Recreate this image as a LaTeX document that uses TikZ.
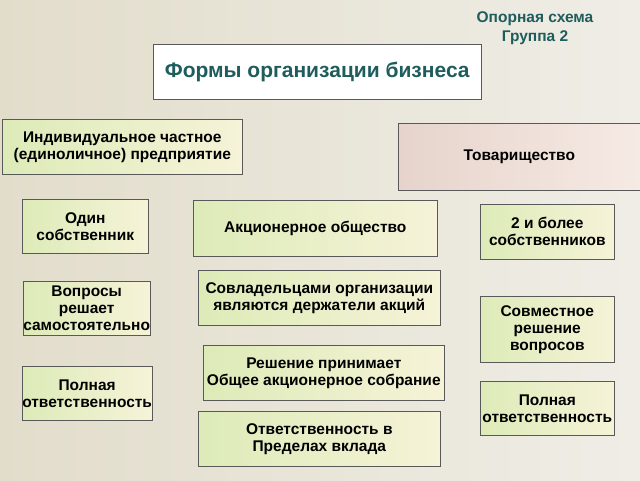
\documentclass[tikz,border=0pt]{standalone}
\usepackage{fontspec}
\setmainfont{Liberation Sans}
\definecolor{bgL}{HTML}{E2DDCB}
\definecolor{bgR}{HTML}{EFEDE6}
\definecolor{teal}{HTML}{1F5C5C}
\definecolor{gA}{HTML}{DDEBB8}
\definecolor{gB}{HTML}{F6F3D8}
\definecolor{pA}{HTML}{F6EAE4}
\definecolor{pB}{HTML}{E6D4CC}
\begin{document}
\begin{tikzpicture}[x=1pt,y=-1pt,
 box/.style={draw=gray!70!black,line width=0.6pt,left color=gA,right color=gB,align=center,font=\fontsize{15.5}{17}\selectfont\bfseries,text=black,anchor=north west,inner sep=0pt},
 pbox/.style={box,left color=pB,right color=pA}]
\useasboundingbox (0,0) rectangle (640,480);
\shade[left color=bgL,right color=bgR] (0,0) rectangle (640,480);
\node[align=center,text=teal,font=\fontsize{15.5}{19}\selectfont\bfseries] (hdr) at (535,28) {Опорная схема\\Группа 2};
\node[draw=gray!70!black,fill=white,anchor=north west,minimum width=328,minimum height=55,text=teal,font=\fontsize{21}{23}\selectfont\bfseries] (title) at (153,44) {Формы организации бизнеса};
\node[box,minimum width=240,minimum height=55] (ind) at (2,119) {Индивидуальное частное\\(единоличное) предприятие};
\node[pbox,minimum width=242,minimum height=67] (tov) at (398,123) {Товарищество};
\node[box,minimum width=126,minimum height=54] (one) at (22,199) {Один\\собственник};
\node[box,minimum width=244,minimum height=56] (ao) at (193,200) {Акционерное общество};
\node[box,minimum width=134,minimum height=55] (two) at (480,204) {2 и более\\собственников};
\node[box,minimum width=125,minimum height=54] (vop) at (23,281) {Вопросы\\решает\\самостоятельно};
\node[box,minimum width=242,minimum height=55] (sov) at (198,270) {Совладельцами организации\\являются держатели акций};
\node[box,minimum width=134,minimum height=66] (sovm) at (480,296) {Совместное\\решение\\вопросов};
\node[box,minimum width=241,minimum height=55] (resh) at (203,345) {Решение принимает\\Общее акционерное собрание};
\node[box,minimum width=126,minimum height=54] (pl) at (22,366) {Полная\\ответственность};
\node[box,minimum width=134,minimum height=54] (pr) at (480,381) {Полная\\ответственность};
\node[box,minimum width=242,minimum height=55] (otv) at (198,411) {Ответственность в\\Пределах вклада};
\end{tikzpicture}
\end{document}
